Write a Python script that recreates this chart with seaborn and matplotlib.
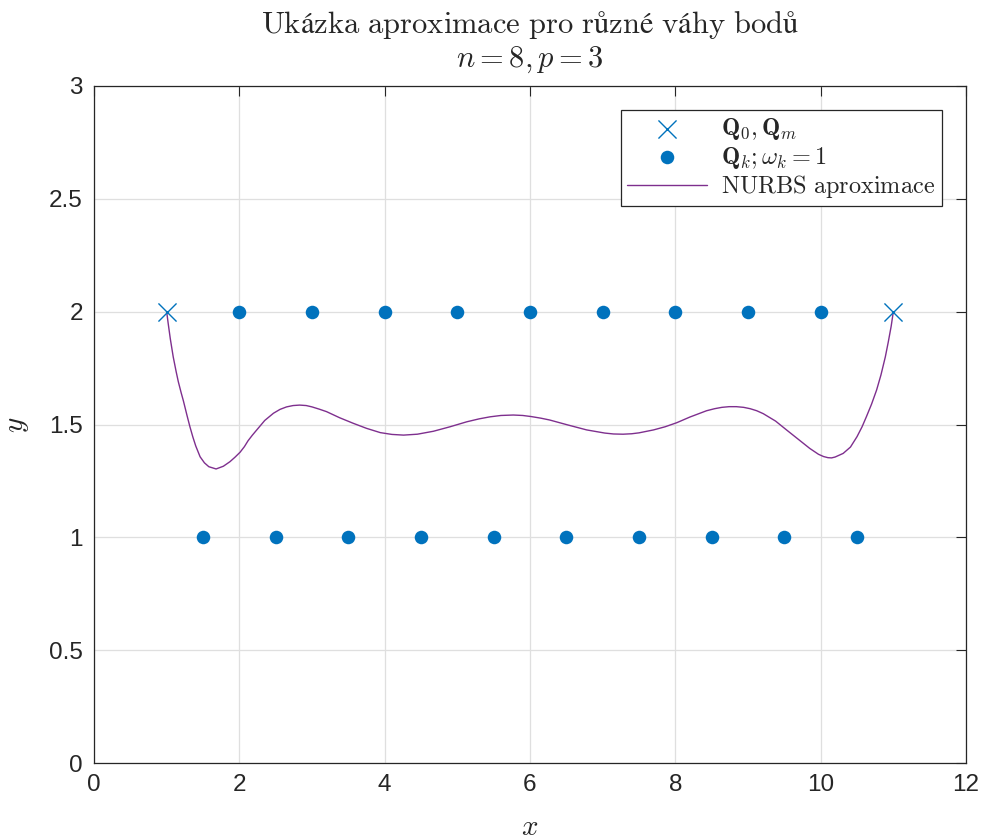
import numpy as np
import pandas as pd
import matplotlib
matplotlib.use("Agg")
import matplotlib.pyplot as plt
import seaborn as sns

# ---- data ----
end_x = [1.0, 11.0]
end_y = [2.0, 2.0]
pts_x = [2, 3, 4, 5, 6, 7, 8, 9, 10, 1.5, 2.5, 3.5, 4.5, 5.5, 6.5, 7.5, 8.5, 9.5, 10.5]
pts_y = [2, 2, 2, 2, 2, 2, 2, 2, 2, 1, 1, 1, 1, 1, 1, 1, 1, 1, 1]
curve_x = [1.00, 1.02, 1.05, 1.09, 1.13, 1.16, 1.20, 1.23, 1.28, 1.32, 1.36, 1.40, 1.46, 1.52,
           1.58, 1.68, 1.78, 1.87, 1.94, 2.01, 2.07, 2.12, 2.18,
           2.24, 2.35, 2.47, 2.56, 2.65, 2.74, 2.83, 2.92, 3.00, 3.10, 3.20, 3.38, 3.57, 3.75,
           3.94, 4.10, 4.26, 4.45,
           4.67, 4.90, 5.13, 5.30, 5.45, 5.60, 5.77, 5.90, 6.02, 6.15, 6.27, 6.52, 6.78, 7.03,
           7.15, 7.28, 7.40, 7.50, 7.70, 7.86,
           8.02, 8.20, 8.43, 8.54, 8.64, 8.74, 8.84, 8.94, 9.03, 9.12, 9.21, 9.38, 9.53, 9.69,
           9.85, 9.97, 10.04, 10.10, 10.15, 10.20,
           10.31, 10.41, 10.50, 10.57, 10.63, 10.70, 10.77, 10.83, 10.89, 10.93, 10.97, 11.00]
curve_y = [2.000, 1.950, 1.880, 1.800, 1.735, 1.690, 1.640, 1.605, 1.540, 1.490, 1.445, 1.405,
           1.357, 1.330, 1.313, 1.303, 1.315, 1.335, 1.355, 1.377, 1.402, 1.428, 1.453,
           1.476, 1.518, 1.550, 1.567, 1.578, 1.584, 1.586, 1.584, 1.578, 1.568, 1.557, 1.530,
           1.505, 1.483, 1.464, 1.456, 1.453, 1.457,
           1.470, 1.490, 1.512, 1.525, 1.534, 1.540, 1.542, 1.540, 1.535, 1.528, 1.520, 1.498,
           1.476, 1.462, 1.458, 1.457, 1.459, 1.463, 1.476, 1.490,
           1.508, 1.533, 1.561, 1.570, 1.576, 1.579, 1.579, 1.576, 1.570, 1.561, 1.548, 1.515,
           1.476, 1.435, 1.394, 1.368, 1.358, 1.353, 1.352, 1.356,
           1.372, 1.400, 1.446, 1.490, 1.535, 1.590, 1.653, 1.720, 1.800, 1.865, 1.935, 2.000]
x_ticks = [0, 2, 4, 6, 8, 10, 12]
y_ticks = [0, 0.5, 1, 1.5, 2, 2.5, 3]
y_ticklabels = ["0", "0.5", "1", "1.5", "2", "2.5", "3"]

title_text = r"$\mathrm{Ukázka\ aproximace\ pro\ různé\ váhy\ bodů}$"
subtitle_text = r"$n = 8, p = 3$"
legend_labels = [r"$\mathbf{Q}_0, \mathbf{Q}_m$", r"$\mathbf{Q}_k; \omega_k = 1$",
                 r"$\mathrm{NURBS\ aproximace}$"]

# ---- style ----
sns.set_style("white")
plt.rcParams["font.family"] = ["Liberation Sans", "DejaVu Sans"]
plt.rcParams["mathtext.fontset"] = "cm"
plt.rcParams["axes.unicode_minus"] = False

blue = "#0072BD"
purple = "#7E2F8E"

fig = plt.figure(figsize=(9.84, 8.39), dpi=100)
ax = fig.add_axes([94 / 984, 1 - 763 / 839, (966 - 94) / 984, (763 - 86) / 839])

df_end = pd.DataFrame({"x": end_x, "y": end_y})
df_pts = pd.DataFrame({"x": pts_x, "y": pts_y})
df_curve = pd.DataFrame({"x": curve_x, "y": curve_y})

sns.scatterplot(data=df_end, x="x", y="y", ax=ax, marker="x", s=170, color=blue,
                linewidth=1.0, label=legend_labels[0], zorder=3)
sns.scatterplot(data=df_pts, x="x", y="y", ax=ax, marker="o", s=95, color=blue,
                edgecolor=blue, linewidth=0, label=legend_labels[1], zorder=3)
sns.lineplot(data=df_curve, x="x", y="y", ax=ax, sort=False, estimator=None,
             color=purple, linewidth=1.0, label=legend_labels[2], zorder=2)

ax.set_xlim(0, 12)
ax.set_ylim(0, 3)
ax.set_xticks(x_ticks)
ax.set_xticklabels([str(t) for t in x_ticks])
ax.set_yticks(y_ticks)
ax.set_yticklabels(y_ticklabels)
ax.tick_params(direction="in", length=7, width=0.8, colors="#262626", labelsize=17.5,
               top=True, right=True, pad=8)
for lab in ax.get_xticklabels() + ax.get_yticklabels():
    lab.set_color("#262626")
for sp in ax.spines.values():
    sp.set_color("#262626")
    sp.set_linewidth(0.9)
ax.grid(True, color="#dfdfdf", linewidth=0.9)
ax.set_axisbelow(True)

ax.set_xlabel(r"$x$", fontsize=21, labelpad=12)
ax.set_ylabel(r"$y$", fontsize=21, labelpad=13)
ax.set_title(title_text + "\n" + subtitle_text, fontsize=22, pad=14, linespacing=1.1)

leg = ax.legend(loc="upper right", fontsize=17.5, frameon=True, fancybox=False,
                framealpha=1, edgecolor="#262626", borderaxespad=1.0,
                handlelength=3.3, handletextpad=0.6, borderpad=0.25, labelspacing=0.1)
leg.get_frame().set_linewidth(0.9)

fig.savefig("out.png", dpi=100)
